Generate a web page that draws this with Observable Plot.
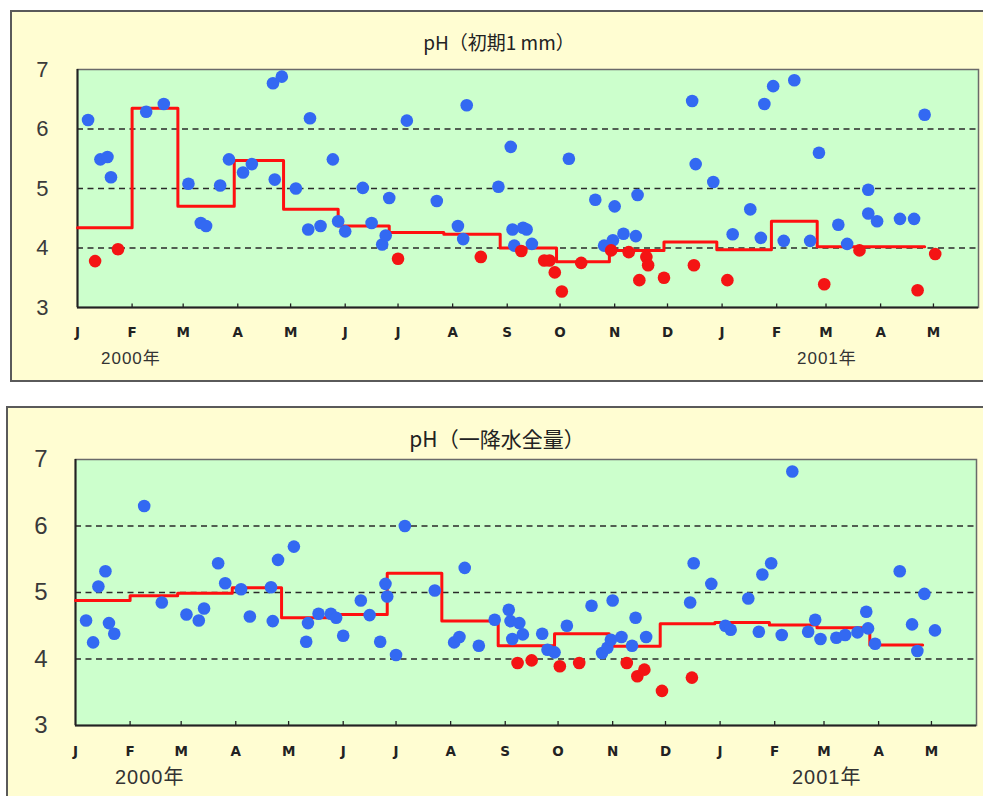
<!DOCTYPE html>
<html><head><meta charset="utf-8">
<script src="https://cdn.jsdelivr.net/npm/d3@7"></script>
<script src="https://cdn.jsdelivr.net/npm/@observablehq/plot@0.6"></script>
<style>
body{margin:0;width:983px;height:796px;background:#fff;position:relative;overflow:hidden;font-family:"Liberation Sans",Arial,sans-serif;}
.panel{position:absolute;background:#FFFDD2;border:2px solid #5a5a5a;box-sizing:border-box;}
.title{position:absolute;text-align:center;font-family:"Noto Sans CJK JP",sans-serif;color:#222;white-space:nowrap;}
.year{position:absolute;font-family:"Liberation Sans",Arial,sans-serif;color:#333;white-space:nowrap;letter-spacing:1px;}
.year span{font-family:"Noto Sans CJK JP",sans-serif;}
.chart{position:absolute;left:0;}
</style></head><body>
<div class="panel" style="left:10px;top:10px;width:990px;height:372px"></div>
<div class="panel" style="left:6px;top:406px;width:990px;height:420px"></div>
<div class="title" style="left:0;top:29px;width:998px;font-size:19px;line-height:26px">pH（初期1 mm）</div>
<div class="title" style="left:0;top:423px;width:994px;font-size:21px;line-height:30px">pH（一降水全量）</div>
<div id="top" class="chart" style="top:0"></div>
<div id="bottom" class="chart" style="top:407px"></div>
<div class="year" style="left:101px;top:346px;font-size:17px;line-height:22px">2000<span>年</span></div>
<div class="year" style="left:797px;top:346px;font-size:17px;line-height:22px">2001<span>年</span></div>
<div class="year" style="left:115px;top:764px;font-size:20px;line-height:24px">2000<span>年</span></div>
<div class="year" style="left:792px;top:764px;font-size:20px;line-height:24px">2001<span>年</span></div>
<script>
// ---- axis ticks ----
const monthTicks = ["2000-01-01","2000-02-01","2000-03-01","2000-04-01","2000-05-01","2000-06-01","2000-07-01","2000-08-01","2000-09-01","2000-10-01","2000-11-01","2000-12-01","2001-01-01","2001-02-01","2001-03-01","2001-04-01","2001-05-01"];
const monthLabels = ["J","F","M","A","M","J","J","A","S","O","N","D","J","F","M","A","M"];
const phTicks = [3,4,5,6,7];
const gridValues = [4,5,6];

// ---- top panel: pH (初期1 mm) ----
const topBlueDates = ["2000-01-07","2000-01-14","2000-01-18","2000-01-20","2000-02-09","2000-02-19","2000-03-04","2000-03-11","2000-03-14","2000-03-22","2000-03-27","2000-04-04","2000-04-09","2000-04-21","2000-04-26","2000-04-22","2000-05-04","2000-05-12","2000-05-11","2000-05-18","2000-05-25","2000-05-28","2000-06-01","2000-06-11","2000-06-16","2000-06-22","2000-06-24","2000-06-26","2000-07-06","2000-07-23","2000-08-04","2000-08-07","2000-08-09","2000-08-27","2000-09-03","2000-09-04","2000-09-05","2000-09-10","2000-09-12","2000-09-15","2000-10-06","2000-10-21","2000-10-26","2000-10-31","2000-11-01","2000-11-06","2000-11-13","2000-11-14","2000-12-15","2000-12-17","2000-12-27","2001-01-07","2001-01-17","2001-01-23","2001-01-25","2001-01-30","2001-02-05","2001-02-11","2001-02-20","2001-02-25","2001-03-08","2001-03-13","2001-03-25","2001-03-25","2001-03-30","2001-04-12","2001-04-20","2001-04-26"];
const topBlueValues = [6.15,5.49,5.53,5.19,6.29,6.42,5.08,4.42,4.37,5.05,5.49,5.27,5.41,6.77,6.88,5.15,5.00,6.18,4.31,4.37,5.49,4.45,4.28,5.01,4.42,4.06,4.21,4.84,6.14,4.79,4.37,4.15,6.40,5.03,5.70,4.31,4.04,4.34,4.31,4.07,5.50,4.81,4.04,4.13,4.70,4.24,4.20,4.89,6.47,5.41,5.11,4.23,4.65,4.17,6.42,6.72,4.12,6.82,4.12,5.60,4.39,4.07,4.98,4.58,4.45,4.49,4.49,6.24];
const topRedDates = ["2000-01-11","2000-01-24","2000-07-01","2000-08-17","2000-09-09","2000-09-22","2000-09-25","2000-09-28","2000-10-02","2000-10-13","2000-10-30","2000-11-09","2000-11-15","2000-11-19","2000-11-20","2000-11-29","2000-12-16","2001-01-04","2001-02-28","2001-03-20","2001-04-22","2001-05-02"];
const topRedValues = [3.78,3.98,3.82,3.85,3.95,3.79,3.79,3.59,3.27,3.75,3.96,3.93,3.46,3.85,3.71,3.50,3.71,3.46,3.39,3.96,3.29,3.90];
const topStepDates = ["2000-01-01","2000-02-01","2000-02-27","2000-03-30","2000-04-27","2000-05-28","2000-06-26","2000-07-27","2000-08-28","2000-09-29","2000-10-29","2000-11-29","2000-12-29","2001-01-29","2001-02-24","2001-04-26"];
const topStepValues = [4.34,6.35,4.70,5.47,4.65,4.37,4.26,4.23,4.00,3.77,3.96,4.10,3.97,4.45,4.02,4.02];

// ---- bottom panel: pH (一降水全量) ----
const botBlueDates = ["2000-01-07","2000-01-11","2000-01-14","2000-01-18","2000-01-20","2000-01-23","2000-02-09","2000-02-19","2000-03-04","2000-03-11","2000-03-14","2000-03-22","2000-03-26","2000-04-04","2000-04-09","2000-04-21","2000-04-22","2000-04-25","2000-05-04","2000-05-12","2000-05-11","2000-05-18","2000-05-25","2000-05-28","2000-06-01","2000-06-11","2000-06-16","2000-06-22","2000-06-25","2000-06-26","2000-07-01","2000-07-06","2000-07-23","2000-08-03","2000-08-06","2000-08-09","2000-08-17","2000-08-26","2000-09-03","2000-09-04","2000-09-05","2000-09-09","2000-09-11","2000-09-22","2000-09-25","2000-09-29","2000-10-06","2000-10-20","2000-10-26","2000-10-29","2000-10-31","2000-11-01","2000-11-06","2000-11-12","2000-11-14","2000-11-20","2000-12-15","2000-12-17","2000-12-27","2001-01-04","2001-01-07","2001-01-17","2001-01-23","2001-01-25","2001-01-30","2001-02-05","2001-02-11","2001-02-20","2001-02-24","2001-02-27","2001-03-08","2001-03-13","2001-03-20","2001-03-25","2001-03-26","2001-03-30","2001-04-13","2001-04-20","2001-04-23","2001-04-27","2001-05-03"];
const botBlueValues = [4.58,4.25,5.09,5.32,4.54,4.38,6.30,4.85,4.67,4.58,4.76,5.44,5.14,5.05,4.64,5.08,4.57,5.49,5.69,4.54,4.26,4.68,4.68,4.62,4.35,4.88,4.66,4.26,5.13,4.94,4.06,6.00,5.03,4.25,4.33,5.37,4.20,4.59,4.74,4.57,4.30,4.54,4.37,4.38,4.14,4.10,4.50,4.80,4.09,4.17,4.29,4.88,4.33,4.20,4.62,4.33,4.85,5.44,5.13,4.50,4.44,4.91,4.41,5.27,5.44,4.36,6.82,4.41,4.59,4.30,4.32,4.36,4.40,4.71,4.46,4.23,5.32,4.52,4.12,4.98,4.43];
const botRedDates = ["2000-09-08","2000-09-16","2000-10-02","2000-10-13","2000-11-09","2000-11-15","2000-11-19","2000-11-29","2000-12-16"];
const botRedValues = [3.94,3.98,3.89,3.94,3.94,3.74,3.84,3.52,3.72];
const botStepDates = ["2000-01-01","2000-02-01","2000-02-28","2000-03-30","2000-04-27","2000-05-28","2000-06-26","2000-07-27","2000-08-28","2000-09-29","2000-10-30","2000-11-28","2000-12-29","2001-01-29","2001-02-25","2001-03-27","2001-04-26"];
const botStepValues = [4.88,4.95,4.99,5.07,4.62,4.67,5.29,4.57,4.20,4.38,4.19,4.53,4.55,4.51,4.47,4.21,4.21];

const parse = d3.utcParse("%Y-%m-%d");
const xDomain = [new Date(Date.UTC(2000,0,1)), new Date(Date.UTC(2001,4,26,14))];
const tickDates = monthTicks.map(parse);
const labelOf = new Map(tickDates.map((d,i)=>[+d, monthLabels[i]]));
const rows = (ds, vs) => ds.map((d,i)=>({date: parse(d), ph: vs[i]}));

function panel(o){
  const blue = rows(o.blueD, o.blueV), red = rows(o.redD, o.redV), step = rows(o.stepD, o.stepV);
  return Plot.plot({
    width: 983, height: o.height,
    marginLeft: o.ml, marginRight: o.mr, marginTop: o.mt, marginBottom: o.mb,
    style: {background: "transparent", overflow: "visible"},
    x: {type: "utc", domain: xDomain, label: null},
    y: {domain: [3,7], label: null},
    marks: [
      Plot.frame({fill: "#CCFFCC", stroke: "#6a6a6a", strokeWidth: 1.5}),
      Plot.ruleY(gridValues, {stroke: "#2a2a2a", strokeWidth: 1.6, strokeDasharray: "6,4.5"}),
      Plot.ruleX(tickDates.slice(1), {y1: 3, y2: 3 + o.tickLen, stroke: "#222", strokeWidth: 1.3}),
      Plot.ruleX([xDomain[0]], {stroke: "#222", strokeWidth: 2}),
      Plot.ruleY([3], {stroke: "#222", strokeWidth: 2}),
      Plot.axisY(phTicks, {tickSize: 0, tickPadding: o.yPad, fontSize: o.yFont, color: "#3a3a3a", fontFamily: "Liberation Sans, Arial, sans-serif", tickFormat: d => String(d)}),
      Plot.axisX(tickDates, {tickSize: 0, tickPadding: o.xPad, fontSize: 13.5, fontWeight: "bold", color: "#222", fontFamily: "DejaVu Sans, sans-serif", tickFormat: d => labelOf.get(+d)}),
      Plot.line(step, {x: "date", y: "ph", curve: "step-after", stroke: "#FF1010", strokeWidth: 3}),
      Plot.dot(blue, {x: "date", y: "ph", r: 6.3, fill: "#3369F2", stroke: "none"}),
      Plot.dot(red, {x: "date", y: "ph", r: 6.3, fill: "#F41414", stroke: "none"})
    ]
  });
}

document.getElementById("top").append(panel({
  blueD: topBlueDates, blueV: topBlueValues, redD: topRedDates, redV: topRedValues,
  stepD: topStepDates, stepV: topStepValues,
  height: 381, ml: 77, mr: 5, mt: 69, mb: 74, yPad: 29, yFont: 22, xPad: 20, tickLen: 0.06
}));
document.getElementById("bottom").append(panel({
  blueD: botBlueDates, blueV: botBlueValues, redD: botRedDates, redV: botRedValues,
  stepD: botStepDates, stepV: botStepValues,
  height: 389, ml: 75, mr: 7, mt: 52, mb: 71, yPad: 28, yFont: 24, xPad: 20.5, tickLen: 0.06
}));
</script>
</body></html>
